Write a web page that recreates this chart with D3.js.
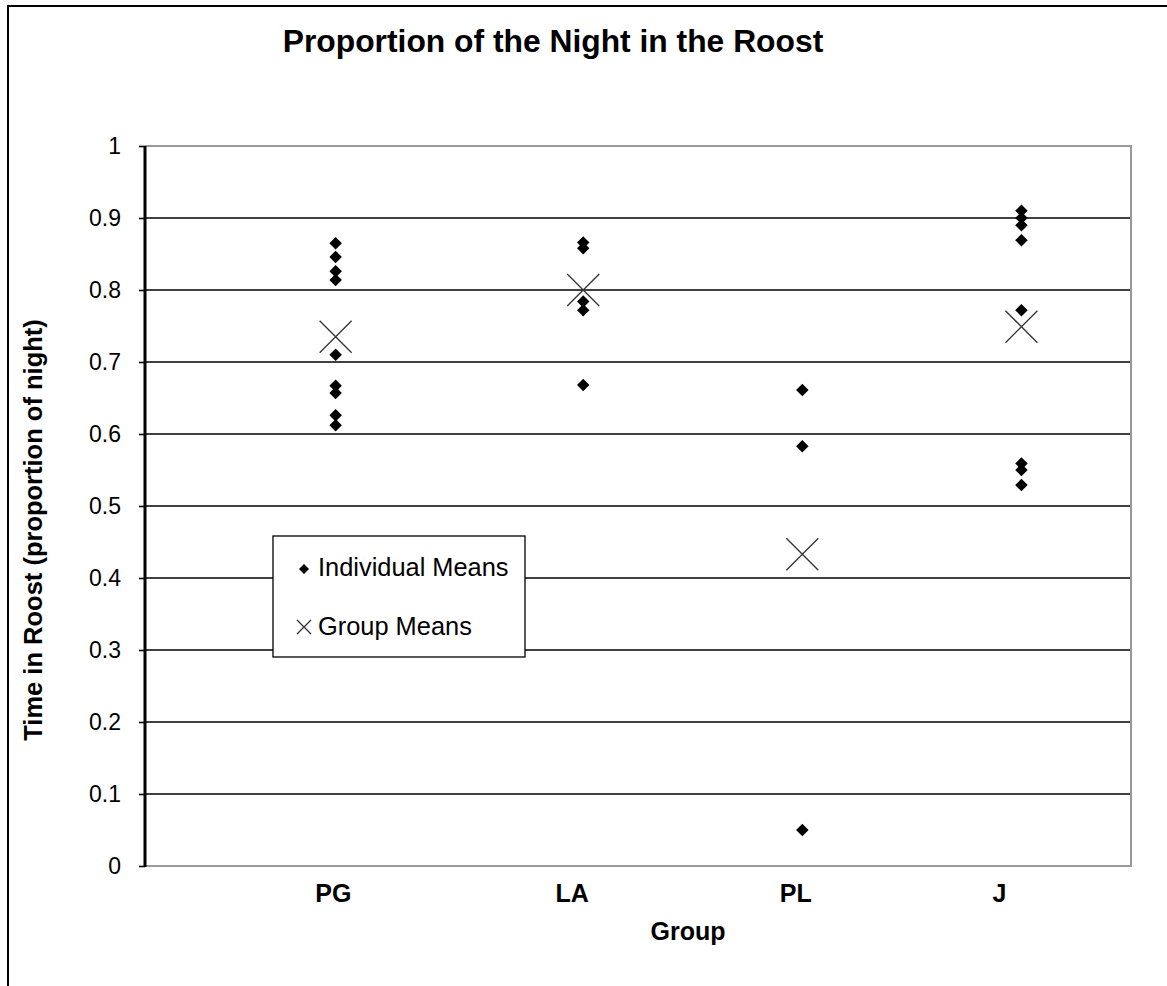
<!DOCTYPE html>
<html><head><meta charset="utf-8">
<script src="https://cdn.jsdelivr.net/npm/d3@7"></script>
<style>body{margin:0;background:#fff}svg{display:block}text{font-family:"Liberation Sans",Arial,sans-serif}</style>
</head><body>
<svg id="c" width="1167" height="986"></svg>
<script>
const categories = ["PG", "LA", "PL", "J"];
const categoryX = [0.87, 2, 3, 4];
const labelX = [0.86, 1.95, 2.97, 3.9];
const individualPG = [0.865, 0.846, 0.826, 0.814, 0.710, 0.667, 0.657, 0.626, 0.612];
const individualLA = [0.866, 0.858, 0.784, 0.772, 0.668];
const individualPL = [0.661, 0.583, 0.05];
const individualJ = [0.91, 0.90, 0.89, 0.869, 0.772, 0.559, 0.55, 0.529];
const groupMeans = [0.735, 0.800, 0.433, 0.749];
const yTicks = [0, 0.1, 0.2, 0.3, 0.4, 0.5, 0.6, 0.7, 0.8, 0.9, 1];
const individuals = [individualPG, individualLA, individualPL, individualJ];

const svg = d3.select("#c");
const mL = 145, mR = 1131, mT = 146, mB = 866;
const x = d3.scaleLinear().domain([0, 4.5]).range([mL, mR]);
const y = d3.scaleLinear().domain([0, 1]).range([mB, mT]);

// outer frame
svg.append("rect").attr("x", 8).attr("y", 6).attr("width", 1170).attr("height", 1000)
  .attr("fill", "none").attr("stroke", "#000").attr("stroke-width", 2);

// title
svg.append("text").attr("x", 553).attr("y", 52).attr("text-anchor", "middle")
  .attr("font-weight", "bold").attr("font-size", 31.8).text("Proportion of the Night in the Roost");

// gridlines
svg.append("g").selectAll("line").data(yTicks.filter(t => t > 0 && t < 1)).join("line")
  .attr("x1", mL).attr("x2", mR).attr("y1", d => y(d)).attr("y2", d => y(d))
  .attr("stroke", "#000").attr("stroke-width", 1.6);

// plot border (gray)
svg.append("path").attr("d", `M${mL},${mT}H${mR}V${mB}H${mL}`)
  .attr("fill", "none").attr("stroke", "#999").attr("stroke-width", 2);

// y axis
const yAxis = d3.axisLeft(y).tickValues(yTicks).tickSize(6).tickPadding(18)
  .tickFormat(d => d3.format("")(d));
const gy = svg.append("g").attr("transform", `translate(${mL},0)`).call(yAxis);
gy.select(".domain").remove();
gy.selectAll(".tick line").attr("stroke", "#000").attr("stroke-width", 1.6);
gy.selectAll(".tick text").attr("font-size", 23).attr("fill", "#000")
  .style("font-family", "'Liberation Sans', Arial, sans-serif");
svg.append("line").attr("x1", mL).attr("x2", mL).attr("y1", mT).attr("y2", mB + 1)
  .attr("stroke", "#000").attr("stroke-width", 3);

// category labels
svg.append("g").selectAll("text").data(categories).join("text")
  .attr("x", (d, i) => x(labelX[i])).attr("y", 902).attr("text-anchor", "middle")
  .attr("font-weight", "bold").attr("font-size", 25).text(d => d);

svg.append("text").attr("x", 688).attr("y", 940).attr("text-anchor", "middle")
  .attr("font-weight", "bold").attr("font-size", 25).text("Group");

svg.append("text").attr("transform", "translate(42,530) rotate(-90)").attr("text-anchor", "middle")
  .attr("font-weight", "bold").attr("font-size", 25.5).text("Time in Roost (proportion of night)");

// individual points
const diamond = d3.symbol().type(d3.symbolSquare).size(78);
const pts = [];
individuals.forEach((arr, i) => arr.forEach(v => pts.push({i, v})));
svg.append("g").selectAll("path").data(pts).join("path")
  .attr("d", diamond)
  .attr("transform", d => `translate(${x(categoryX[d.i])},${y(d.v)}) rotate(45)`)
  .attr("fill", "#000");

// group means (X)
function crossPath(s) { return `M${-s},${-s}L${s},${s}M${-s},${s}L${s},${-s}`; }
svg.append("g").selectAll("path").data(groupMeans).join("path")
  .attr("d", crossPath(16))
  .attr("transform", (d, i) => `translate(${x(categoryX[i])},${y(d)})`)
  .attr("fill", "none").attr("stroke", "#333").attr("stroke-width", 1.3);

// legend
const lg = svg.append("g");
lg.append("rect").attr("x", 273).attr("y", 536).attr("width", 252).attr("height", 121)
  .attr("fill", "#fff").attr("stroke", "#000").attr("stroke-width", 1.3);
lg.append("path").attr("d", d3.symbol().type(d3.symbolSquare).size(50)())
  .attr("transform", "translate(304,569) rotate(45)").attr("fill", "#000");
lg.append("path").attr("d", crossPath(7)).attr("transform", "translate(304,627)")
  .attr("fill", "none").attr("stroke", "#333").attr("stroke-width", 1.3);
lg.append("text").attr("x", 318).attr("y", 576).attr("font-size", 25.4).text("Individual Means");
lg.append("text").attr("x", 318).attr("y", 635).attr("font-size", 25.4).text("Group Means");
</script>
</body></html>
